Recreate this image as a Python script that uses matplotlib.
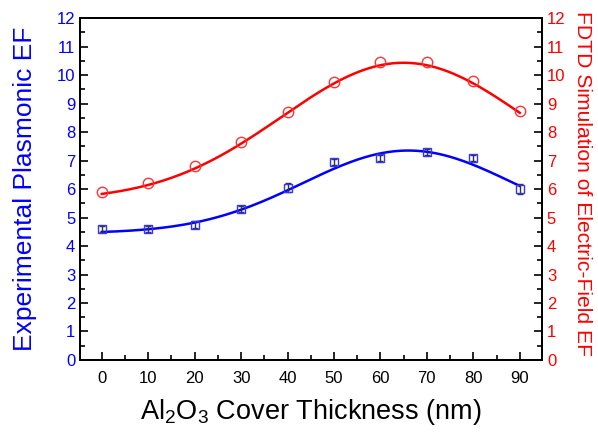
import numpy as np
import matplotlib
matplotlib.use('Agg')
from matplotlib import pyplot as plt
from matplotlib.ticker import MultipleLocator

plt.rcParams['font.family'] = ['Liberation Sans', 'DejaVu Sans']
plt.rcParams['mathtext.default'] = 'regular'

# thickness of Al2O3 cover (nm)
thickness = [0, 10, 20, 30, 40, 50, 60, 70, 80, 90]

# experimental plasmonic EF with error bars
exp_ef = [4.6, 4.6, 4.75, 5.3, 6.05, 6.95, 7.1, 7.3, 7.1, 6.0]
exp_err = [0.1, 0.1, 0.12, 0.12, 0.15, 0.1, 0.1, 0.1, 0.1, 0.18]

# FDTD simulated electric-field EF
sim_ef = [5.9, 6.2, 6.8, 7.65, 8.7, 9.75, 10.45, 10.45, 9.8, 8.75]

# Gaussian fit parameters (y0, A, xc, w)
exp_fit = (4.45, 2.9, 66.0, 22.7)
sim_fit = (5.6, 4.83, 65.0, 26.3)


def gauss(x, p):
    y0, a, xc, w = p
    return y0 + a * np.exp(-(x - xc) ** 2 / (2 * w ** 2))


def style_axis(ax):
    ax.tick_params(which='both', direction='in', width=1.2, labelsize=12)
    ax.tick_params(which='major', length=6)
    ax.tick_params(which='minor', length=3.5)
    for s in ax.spines.values():
        s.set_linewidth(1.4)


fig = plt.figure(figsize=(5.98, 4.33), dpi=100)
ax = fig.add_axes([0.1338, 0.1686, 0.7726, 0.7898])
ax2 = ax.twinx()

xf = np.linspace(0, 90, 300)

ax.plot(xf, gauss(xf, exp_fit), color='#0000ff', lw=1.8, zorder=2)
ax.errorbar(thickness, exp_ef, yerr=exp_err, fmt='s', mfc='none', mec='#3333ff',
            ms=6, mew=1.0, ecolor='#333333', elinewidth=1.0, capsize=2.5, zorder=3)

ax2.plot(xf, gauss(xf, sim_fit), color='#ff0000', lw=1.8, zorder=2)
ax2.plot(thickness, sim_ef, 'o', mfc='none', mec='#ff3333', ms=7.5, mew=1.0, zorder=3)

for a in (ax, ax2):
    a.set_xlim(-4.7, 94.8)
    a.set_ylim(0, 12)
    a.yaxis.set_major_locator(MultipleLocator(1))
    a.yaxis.set_minor_locator(MultipleLocator(0.5))
    style_axis(a)

ax.xaxis.set_major_locator(MultipleLocator(10))
ax.xaxis.set_minor_locator(MultipleLocator(5))
ax.tick_params(axis='x', pad=8)

ax.tick_params(axis='y', labelcolor='#0000ff')
ax2.tick_params(axis='y', labelcolor='#ff0000')

ax.set_xlabel('Al$_2$O$_3$ Cover Thickness (nm)', fontsize=19.5, labelpad=8)
ax.set_ylabel('Experimental Plasmonic EF', fontsize=19, color='#0000ff', labelpad=14)
ax2.set_ylabel('FDTD Simulation of Electric-Field EF', fontsize=15.2, color='#ff0000',
               rotation=270, labelpad=20)
ax2.yaxis.set_label_coords(1.108, 0.515)

fig.savefig('out.png', dpi=100)
